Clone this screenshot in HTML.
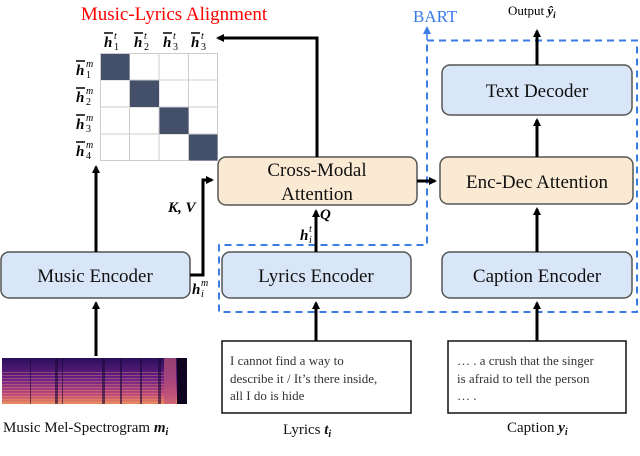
<!DOCTYPE html>
<html><head><meta charset="utf-8"><style>
html,body{margin:0;padding:0;background:#fff;}
svg{display:block;font-family:"Liberation Serif",serif;}
</style></head><body>
<svg width="640" height="456" viewBox="0 0 640 456" xmlns="http://www.w3.org/2000/svg">
<defs>
<marker id="ah" markerWidth="8" markerHeight="8" refX="6" refY="4" orient="auto" markerUnits="userSpaceOnUse"><path d="M0,0 L8,4 L0,8 Z" fill="#000"/></marker>
<marker id="bh" markerWidth="8" markerHeight="8" refX="6" refY="4" orient="auto" markerUnits="userSpaceOnUse"><path d="M0,0 L8,4 L0,8 Z" fill="#3a7be8"/></marker>
<linearGradient id="sg" x1="0" y1="0" x2="0" y2="1"><stop offset="0" stop-color="#2a0f5a"/><stop offset="0.45" stop-color="#6a1f86"/><stop offset="0.8" stop-color="#c04a7a"/><stop offset="1" stop-color="#e88a5a"/></linearGradient>
<pattern id="sp" width="4" height="3" patternUnits="userSpaceOnUse"><rect width="4" height="1" fill="#f0a070" opacity="0.35"/></pattern>
</defs>

<text x="174" y="20" font-size="19" fill="#f00" text-anchor="middle">Music-Lyrics Alignment</text>
<g font-size="15" font-weight="bold" font-style="italic">
<g stroke="#000" stroke-width="1.5">
<line x1="104" y1="33" x2="113" y2="33"/><line x1="134" y1="33" x2="143" y2="33"/><line x1="163" y1="33" x2="172" y2="33"/><line x1="191" y1="33" x2="200" y2="33"/>
<line x1="76" y1="61" x2="85" y2="61"/><line x1="76" y1="88" x2="85" y2="88"/><line x1="76" y1="115" x2="85" y2="115"/><line x1="76" y1="142" x2="85" y2="142"/>
</g>
<text x="104" y="47">h</text><text x="134" y="47">h</text><text x="163" y="47">h</text><text x="191" y="47">h</text>
<text x="76" y="75">h</text><text x="76" y="102">h</text><text x="76" y="129">h</text><text x="76" y="156">h</text>
</g>
<g font-size="10" font-style="italic">
<text x="114" y="39">t</text><text x="144" y="39">t</text><text x="173" y="39">t</text><text x="201" y="39">t</text>
<text x="86" y="67">m</text><text x="86" y="94">m</text><text x="86" y="121">m</text><text x="86" y="148">m</text>
</g>
<g font-size="10">
<text x="114" y="50">1</text><text x="144" y="50">2</text><text x="173" y="50">3</text><text x="201" y="50">3</text>
<text x="86" y="78">1</text><text x="86" y="105">2</text><text x="86" y="132">3</text><text x="86" y="159">4</text>
</g>
<g stroke="#ccc" stroke-width="1" fill="#fff">
<rect x="100.5" y="53.5" width="117" height="107"/>
<line x1="129.5" y1="53" x2="129.5" y2="161"/><line x1="159" y1="53" x2="159" y2="161"/><line x1="188.5" y1="53" x2="188.5" y2="161"/>
<line x1="100" y1="80" x2="218" y2="80"/><line x1="100" y1="107" x2="218" y2="107"/><line x1="100" y1="134" x2="218" y2="134"/>
</g>
<g fill="#44506a">
<rect x="101" y="54" width="28.5" height="26"/><rect x="130" y="80.5" width="29" height="26.5"/><rect x="159.5" y="107.5" width="29" height="26.5"/><rect x="189" y="134.5" width="28.5" height="26"/>
</g>

<path d="M427,40.5 H637 V312 H219 V245 H427 Z" fill="none" stroke="#3a7be8" stroke-width="2" stroke-dasharray="7,5"/>
<line x1="427" y1="40" x2="427" y2="28" stroke="#3a7be8" stroke-width="1.5" marker-end="url(#bh)"/>
<text x="413" y="22" font-size="17" fill="#3a7be8">BART</text>
<text x="508" y="15" font-size="13">Output <tspan font-weight="bold" font-style="italic">ŷ<tspan font-size="9" dy="3">i</tspan></tspan></text>

<g stroke="#555" stroke-width="1.5">
<rect x="1" y="252" width="189" height="46" rx="8" fill="#d9e6f8"/>
<rect x="222" y="252" width="189" height="46" rx="8" fill="#d9e6f8"/>
<rect x="442" y="252" width="190" height="46" rx="8" fill="#d9e6f8"/>
<rect x="442" y="65" width="190" height="50" rx="8" fill="#d9e6f8"/>
<rect x="218" y="157" width="199" height="48" rx="8" fill="#fbead3"/>
<rect x="440" y="157" width="193" height="47" rx="8" fill="#fbead3"/>
</g>
<g font-size="19" text-anchor="middle" fill="#111">
<text x="95" y="282">Music Encoder</text>
<text x="316" y="282">Lyrics Encoder</text>
<text x="537" y="282">Caption Encoder</text>
<text x="537" y="97">Text Decoder</text>
<text x="537" y="188">Enc-Dec Attention</text>
<text x="317" y="176">Cross-Modal</text>
<text x="317" y="200">Attention</text>
</g>

<g stroke="#000" stroke-width="3" fill="none">
<line x1="96" y1="252" x2="96" y2="167" marker-end="url(#ah)"/>
<polyline points="190,275 203,275 203,180 212,180" marker-end="url(#ah)"/>
<polyline points="317,157 317,38 218,38" marker-end="url(#ah)"/>
<line x1="316" y1="252" x2="316" y2="211" marker-end="url(#ah)"/>
<line x1="417" y1="181" x2="435" y2="181" marker-end="url(#ah)"/>
<line x1="537" y1="252" x2="537" y2="209" marker-end="url(#ah)"/>
<line x1="537" y1="157" x2="537" y2="120" marker-end="url(#ah)"/>
<line x1="537" y1="65" x2="537" y2="31" marker-end="url(#ah)"/>
<line x1="96" y1="356" x2="96" y2="303" marker-end="url(#ah)"/>
<line x1="316" y1="341" x2="316" y2="303" marker-end="url(#ah)"/>
<line x1="537" y1="341" x2="537" y2="303" marker-end="url(#ah)"/>
</g>
<g font-size="15" font-weight="bold" font-style="italic">
<text x="168" y="212">K, V</text>
<text x="320" y="219">Q</text>
<text x="300" y="240">h</text>
<text x="192" y="294">h</text>
</g>
<g font-size="10" font-style="italic">
<text x="309" y="232">t</text><text x="309" y="243">i</text>
<text x="201" y="286">m</text><text x="201" y="297">i</text>
</g>

<rect x="2" y="358" width="185" height="46" fill="url(#sg)"/>
<rect x="2" y="372" width="162" height="32" fill="url(#sp)"/>
<g fill="#1a0838" opacity="0.6">
<rect x="55" y="358" width="3" height="46"/><rect x="62" y="358" width="1" height="46"/><rect x="102" y="358" width="3" height="46"/><rect x="120" y="358" width="2" height="46"/><rect x="140" y="358" width="2" height="46"/><rect x="158" y="358" width="3" height="46"/><rect x="30" y="358" width="1" height="46"/>
</g>
<rect x="164" y="358" width="12" height="46" fill="#c0557a" opacity="0.7"/>
<rect x="177" y="358" width="10" height="46" fill="#100420"/>

<rect x="222" y="341" width="189" height="72" fill="#fff" stroke="#111" stroke-width="1.5"/>
<rect x="448" y="341" width="178" height="72" fill="#fff" stroke="#111" stroke-width="1.5"/>
<g font-size="13" fill="#333">
<text x="230" y="365">I cannot find a way to</text>
<text x="230" y="383">describe it / It’s there inside,</text>
<text x="230" y="400">all I do is hide</text>
<text x="457" y="365">… . a crush that the singer</text>
<text x="457" y="383">is afraid to tell the person</text>
<text x="457" y="400">… .</text>
</g>
<g font-size="15" fill="#111">
<text x="3" y="432">Music Mel-Spectrogram <tspan font-weight="bold" font-style="italic">m<tspan font-size="10" dy="3">i</tspan></tspan></text>
<text x="283" y="434">Lyrics <tspan font-weight="bold" font-style="italic">t<tspan font-size="10" dy="3">i</tspan></tspan></text>
<text x="507" y="432">Caption <tspan font-weight="bold" font-style="italic">y<tspan font-size="10" dy="3">i</tspan></tspan></text>
</g>
</svg>
</body></html>
